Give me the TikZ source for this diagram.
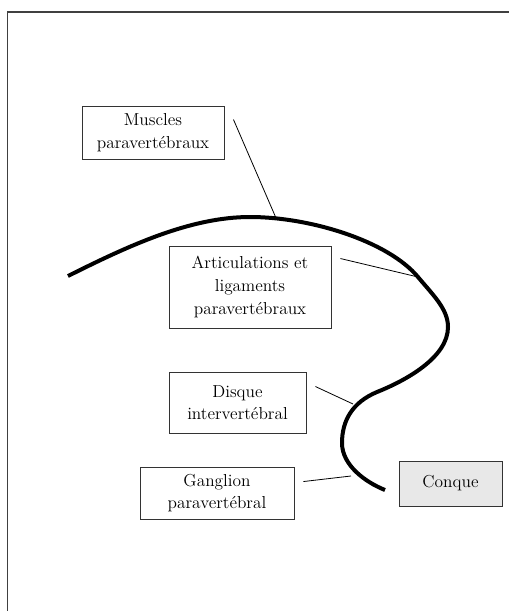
\documentclass[tikz,border=0pt]{standalone}
\usetikzlibrary{calc}
\begin{document}
\begin{tikzpicture}[x=0.75pt,y=-0.75pt,
  lbl/.style={draw=black!80,line width=0.7pt,align=center,inner sep=0pt,
    font=\fontsize{13}{17}\selectfont},
  curve/.style={line width=3pt,line cap=butt},
  lead/.style={line width=0.6pt}]
\useasboundingbox (0,0) rectangle (509,611);
% frame
\draw[line width=1.1pt,black!75] (509,12) -- (7.5,12) -- (7.5,611);
% boxes
\node[lbl,minimum width=106.5pt,minimum height=39.75pt] (mus) at (153,132.5) {Muscles\\paravertébraux};
\node[lbl,minimum width=121.5pt,minimum height=61.5pt] (art) at (250,287) {Articulations et\\ligaments\\paravertébraux};
\node[lbl,minimum width=102.75pt,minimum height=45.75pt] (dis) at (237.5,402.5) {Disque\\intervertébral};
\node[lbl,minimum width=115.5pt,minimum height=39pt] (gan) at (217,493) {Ganglion\\paravertébral};
\node[lbl,fill=black!9,minimum width=77.25pt,minimum height=33.75pt] (con) at (450.5,483.5) {Conque};
% curve
\draw[curve] (68,276) .. controls (128,246) and (190,217) .. (250,217)
  .. controls (310,217) and (388,241) .. (418,277)
  .. controls (433,295) and (448,309) .. (448,327)
  .. controls (448,357) and (407,380) .. (377,392)
  .. controls (352,402.5) and (342,421) .. (342,443)
  .. controls (342,465) and (365,482) .. (385,490);
% points on the curve
\coordinate (cm) at (276,218);
\coordinate (ca) at (418,277);
\coordinate (cd) at (353,404);
\coordinate (cg) at (351,476);
% leader starts
\coordinate (sm) at ($(mus.north east)+(9,14)$);
\coordinate (sa) at ($(art.north east)+(9,13)$);
\coordinate (sd) at ($(dis.north east)+(9,15)$);
\coordinate (sg) at ($(gan.north east)+(9,15)$);
\draw[lead] (sm) -- (cm);
\draw[lead] (sa) -- (ca);
\draw[lead] (sd) -- (cd);
\draw[lead] (sg) -- (cg);
\end{tikzpicture}
\end{document}
